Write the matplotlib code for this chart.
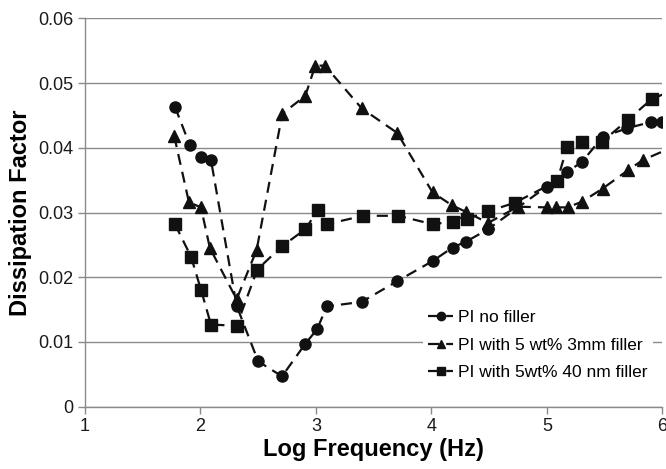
import matplotlib.pyplot as plt

plt.rcParams["font.family"] = ["Liberation Sans", "DejaVu Sans"]

# PI no filler
x_nofill = [1.78, 1.906, 2.007, 2.091, 2.313, 2.50, 2.706, 2.907, 3.011, 3.093,
            3.396, 3.704, 4.010, 4.183, 4.299, 4.489, 4.997, 5.176, 5.303, 5.482,
            5.69, 5.903, 5.995]
y_nofill = [0.0463, 0.0405, 0.0386, 0.0381, 0.0156, 0.0070, 0.0047, 0.0097, 0.0120, 0.0155,
            0.0162, 0.0194, 0.0225, 0.0246, 0.0255, 0.0274, 0.0340, 0.0363, 0.0378, 0.0417,
            0.0430, 0.0440, 0.0440]

# PI with 5 wt% 3mm filler
x_3mm = [1.773, 1.90, 2.004, 2.082, 2.313, 2.486, 2.709, 2.907, 2.994, 3.078,
         3.396, 3.704, 4.010, 4.18, 4.30, 4.49, 4.75, 5.0, 5.08, 5.18,
         5.306, 5.482, 5.699, 5.829, 6.1]
y_3mm = [0.0418, 0.0316, 0.0308, 0.0245, 0.0166, 0.0242, 0.0453, 0.0480, 0.0527, 0.0527,
         0.0461, 0.0423, 0.0331, 0.0311, 0.0301, 0.0284, 0.0309, 0.0308, 0.0308, 0.0308,
         0.0317, 0.0337, 0.0365, 0.0381, 0.0402]

# PI with 5wt% 40 nm filler
x_40nm = [1.779, 1.918, 2.004, 2.091, 2.313, 2.492, 2.706, 2.907, 3.017, 3.093,
          3.41, 3.713, 4.01, 4.19, 4.305, 4.492, 4.72, 5.089, 5.176, 5.303,
          5.476, 5.699, 5.906, 6.1]
y_40nm = [0.0282, 0.0232, 0.0181, 0.0127, 0.0125, 0.0212, 0.0248, 0.0274, 0.0304, 0.0282,
          0.0295, 0.0295, 0.0282, 0.0286, 0.0290, 0.0302, 0.0315, 0.0349, 0.0402, 0.0409,
          0.0409, 0.0443, 0.0475, 0.0490]

labels = ["PI no filler", "PI with 5 wt% 3mm filler", "PI with 5wt% 40 nm filler"]

fig = plt.figure(figsize=(6.66, 4.69), dpi=100)
ax = fig.add_axes([0.1276, 0.1328, 0.867, 0.828])

line_kw = dict(color="#111111", linestyle=(0, (5, 3.2)), linewidth=1.6)
ax.plot(x_nofill, y_nofill, marker="o", markersize=8, label=labels[0], **line_kw)
ax.plot(x_3mm, y_3mm, marker="^", markersize=8, label=labels[1], **line_kw)
ax.plot(x_40nm, y_40nm, marker="s", markersize=8, label=labels[2], **line_kw)

ax.set_xlim(1, 6)
ax.set_ylim(0, 0.06)
ax.set_xticks([1, 2, 3, 4, 5, 6])
ax.set_yticks([0, 0.01, 0.02, 0.03, 0.04, 0.05, 0.06])
ax.set_yticklabels(["0", "0.01", "0.02", "0.03", "0.04", "0.05", "0.06"])

ax.yaxis.grid(True, color="#8a8a8a", linewidth=1.0)
ax.set_axisbelow(True)
for side in ("top", "right"):
    ax.spines[side].set_visible(False)
for side in ("left", "bottom"):
    ax.spines[side].set_color("#8a8a8a")
    ax.spines[side].set_linewidth(1.0)
ax.tick_params(axis="both", colors="#8a8a8a", labelcolor="#1a1a1a",
               labelsize=13, length=5, width=1.0, pad=3)

ax.set_xlabel("Log Frequency (Hz)", fontsize=17, fontweight="bold", labelpad=2)
ax.set_ylabel("Dissipation Factor", fontsize=17, fontweight="bold", labelpad=5)

leg = ax.legend(loc="upper left", bbox_to_anchor=(0.585, 0.262), frameon=True,
                fontsize=12.5, handlelength=1.45, handletextpad=0.3,
                labelspacing=0.7, markerscale=0.75, borderpad=0.3,
                borderaxespad=0)
leg.get_frame().set_facecolor("white")
leg.get_frame().set_edgecolor("none")
leg.get_frame().set_alpha(1.0)

fig.savefig("out.png", dpi=100)
